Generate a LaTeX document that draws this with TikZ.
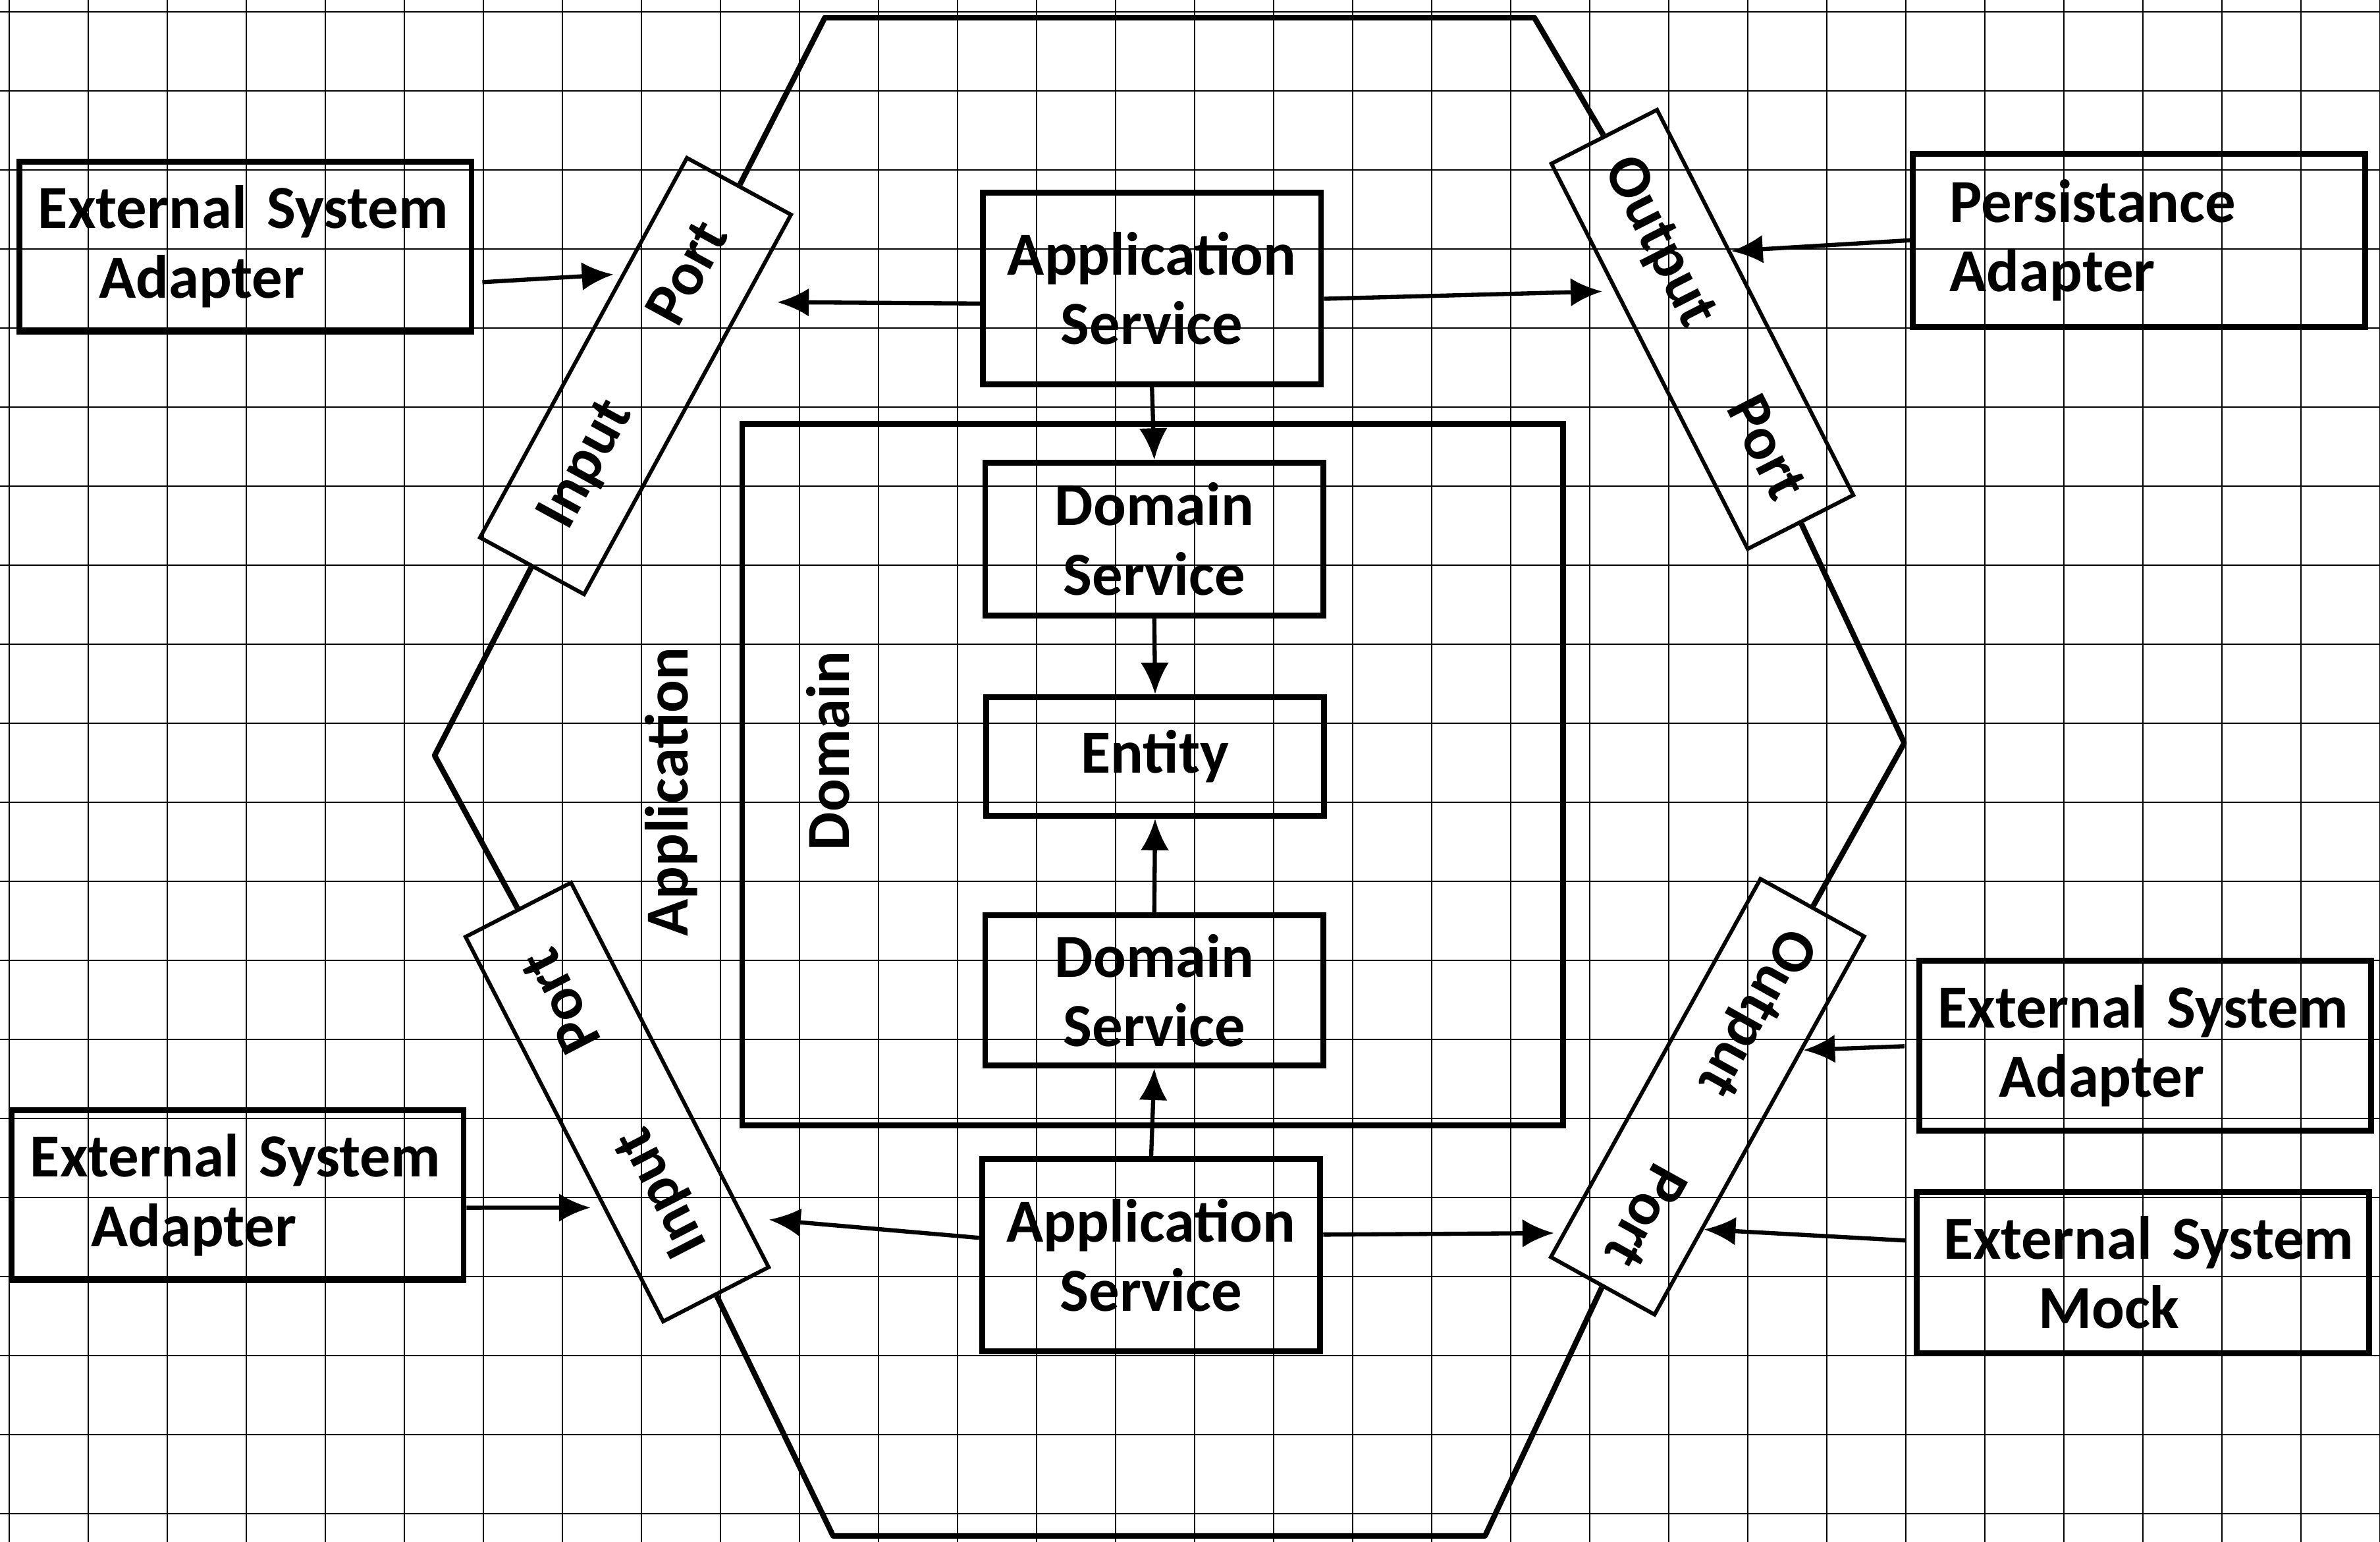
\documentclass[tikz,border=0pt]{standalone}
\usepackage{fontspec}
\setmainfont{Carlito}
\usetikzlibrary{positioning,arrows.meta,calc}

\begin{document}
\begin{tikzpicture}[
  paper/.style={line width=0.45pt, black},
  hexline/.style={line width=2pt, line join=round},
  box/.style={draw, line width=2.1pt, align=center, inner sep=0pt, minimum width=4.28cm,
              font=\fontsize{22}{25}\selectfont\bfseries},
  extbox/.style={box, align=left, text width=5.45cm, inner xsep=0.135cm, minimum height=2.15cm},
  port/.style={draw, line width=1.4pt, minimum width=5.47cm, minimum height=1.5cm, inner sep=0pt,
               font=\fontsize{22}{25}\selectfont\bfseries},
  lbl/.style={font=\fontsize{22}{25}\selectfont\bfseries, rotate=90},
  arr/.style={-{Latex[length=4mm, width=3.6mm]}, line width=1.5pt}
]
  % squared paper
  \fill[white] (-0.1167,0.15) rectangle (30,-19.358);
  \useasboundingbox (-0.1167,0.15) rectangle (30,-19.358);
  \draw[paper, step=1] (-0.1167,0.15) grid (30,-19.358);

  % core
  \node[box, minimum height=2.42cm] (appTop) at (14.46,-3.5) {Application\\Service};
  \node[draw, line width=2.1pt, minimum width=10.39cm, minimum height=8.875cm] (domain) at (14.47,-9.65) {};
  \node[box, minimum height=1.93cm] (ds1) at (14.49,-6.67) {Domain\\Service};
  \node[box, minimum height=1.5cm] (entity) at (14.5,-9.42) {Entity};
  \node[box, minimum height=1.9cm] (ds2) at (14.49,-12.38) {Domain\\Service};
  \node[box, minimum height=2.43cm] (appBot) at (14.45,-15.73) {Application\\Service};

  \node[lbl] (appLbl) at (8.38,-9.87) {Application};
  \node[lbl] (domLbl) at (10.36,-9.35) {Domain};

  % adapters
  \node[extbox] (extTL) at (2.99,-2.97) {\hspace*{0.1cm}\mbox{External System}\\\hspace*{0.87cm}Adapter};
  \node[extbox] (extBL) at (2.89,-14.97) {\hspace*{0.1cm}\mbox{External System}\\\hspace*{0.87cm}Adapter};
  \node[extbox, minimum height=2.19cm] (persist) at (26.95,-2.89) {\hspace*{0.33cm}Persistance\\\hspace*{0.33cm}Adapter};
  \node[extbox] (extR) at (27.03,-13.08) {\hspace*{0.1cm}\mbox{External System}\\\hspace*{0.87cm}Adapter};
  \node[extbox, minimum height=2.04cm] (mock) at (27.0,-15.95) {\hspace*{0.2cm}\mbox{External System}\\\hspace*{1.4cm}Mock};

  % ports
  \node[port, rotate=61.4] (inA) at (7.925,-4.608) {Input\hspace{1.2cm}Port};
  \node[port, rotate=-63] (outA) at (21.425,-4.017) {Output\hspace{1.1cm}Port};
  \node[port, rotate=117.2] (inB) at (7.692,-13.792) {Input\hspace{1.2cm}Port};
  \node[port, rotate=-119] (outB) at (21.49,-13.725) {Output\hspace{1.1cm}Port};

  % hexagon
  \coordinate (hexTL) at (10.32,-0.075);
  \coordinate (hexTR) at (19.30,-0.075);
  \coordinate (hexR) at (23.98,-9.25);
  \coordinate (hexBR) at (18.675,-19.28);
  \coordinate (hexBL) at (10.425,-19.28);
  \coordinate (hexL) at (5.383,-9.408);
  \draw[hexline] (inA.east) -- (hexTL) -- (hexTR) -- (outA.west);
  \draw[hexline] (outA.east) -- (hexR) -- (outB.west);
  \draw[hexline] (outB.east) -- (hexBR) -- (hexBL) -- (inB.west);
  \draw[hexline] (inB.east) -- (hexL) -- (inA.west);

  % arrows
  \draw[arr, shorten >=1mm] ([xshift=1mm, yshift=-4.5mm]extTL.east) -- ($(inA.north west)!0.69!(inA.north east)$);
  \draw[arr, shorten >=4mm] ([yshift=-1.9mm]appTop.west) -- ($(inA.south west)!0.77!(inA.south east)$);
  \draw[arr, shorten >=1.5mm] ([yshift=-1.3mm]appTop.east) -- ($(outA.south west)!0.33!(outA.south east)$);
  \draw[arr] (persist.west) -- ($(outA.north west)!0.37!(outA.north east)$);
  \draw[arr] (appTop.south) -- (ds1.north);
  \draw[arr] (ds1.south) -- (entity.north);
  \draw[arr] (ds2.north) -- (entity.south);
  \draw[arr] (appBot.north) -- (ds2.south);
  \draw[arr, shorten >=1.5mm] ([yshift=-1.6mm]extBL.east) -- ($(inB.north west)!0.30!(inB.north east)$);
  \draw[arr, shorten >=3mm] ([yshift=2.2mm]appBot.west) -- ($(inB.south west)!0.13!(inB.south east)$);
  \draw[arr, shorten >=1mm] ([yshift=2.6mm]appBot.east) -- ($(outB.south west)!0.935!(outB.south east)$);
  \draw[arr, shorten <=1.5mm] (extR.west) -- ($(outB.north west)!0.30!(outB.north east)$);
  \draw[arr, shorten <=1mm] ([yshift=4mm]mock.west) -- ($(outB.north west)!0.77!(outB.north east)$);
\end{tikzpicture}
\end{document}
